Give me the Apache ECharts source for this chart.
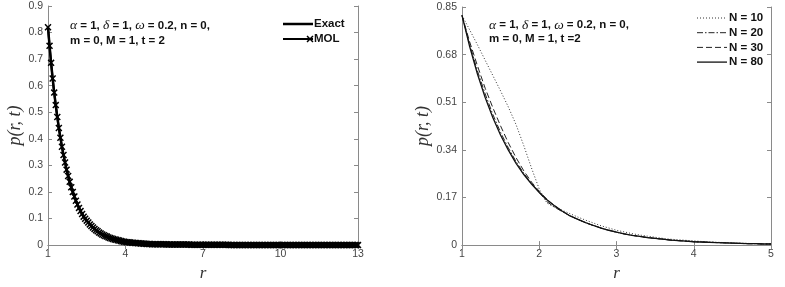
<!DOCTYPE html>
<html>
<head>
<meta charset="utf-8">
<script src="https://cdn.jsdelivr.net/npm/echarts@6/dist/echarts.min.js"></script>
<style>html,body{margin:0;padding:0;background:#fff}#c{width:785px;height:287px}</style>
</head>
<body>
<div id="c"></div>
<script>
// ---------- Left panel: Exact vs MOL (r from 1 to 13, step 0.06) ----------
const leftRStart = 1;
const leftRStep = 0.06;
const leftP = [
0.820,0.750,0.686,0.627,0.574,0.527,0.482,0.441,0.404,0.370,
0.339,0.311,0.284,0.260,0.238,0.218,0.200,0.183,0.167,0.153,
0.140,0.128,0.117,0.107,0.099,0.092,0.085,0.078,0.072,0.066,
0.061,0.056,0.052,0.047,0.044,0.040,0.037,0.034,0.032,0.029,
0.027,0.025,0.023,0.021,0.020,0.018,0.017,0.015,0.014,0.013,
0.012,0.011,0.011,0.010,0.009,0.009,0.008,0.008,0.007,0.007,
0.006,0.006,0.005,0.005,0.004,0.004,0.004,
0.003,0.003,0.003,0.003,0.003,0.003,0.003,0.003,0.003,0.003,
0.002,0.002,0.002,0.002,0.002,0.002,0.002,0.002,0.002,0.002,0.002,0.002,0.002,0.002,0.002,
0.001,0.001,0.001,0.001,0.001,0.001,0.001,0.001,0.001,0.001,
0.001,0.001,0.001,0.001,0.001,0.001,0.001,0.001,0.001,0.001,
0.001,0.001,0.001,0.001,0.001,
0,0,0,0,0,0,0,0,0,0,0,0,0,0,0,0,0,0,0,0,0,0,0,0,0,0,0,0,
0,0,0,0,0,0,0,0,0,0,0,0,0,0,0,0,0,0,0,0,0,0,0,0,0,0,0,0,
0,0,0,0,0,0,0,0,0,0,0,0,0,0,0,0,0,0,0,0,0,0,0,0,0,0,0,0
];
const leftXTicks = {min: 1, max: 13, interval: 3};
const leftYTicks = {min: 0, max: 0.9, interval: 0.1};

// ---------- Right panel: N = 10, 20, 30, 80 ----------
const rightR = [1.0,1.1,1.2,1.3,1.4,1.5,1.6,1.7,1.8,1.9,2.0,2.1,2.2,2.3,2.4,2.5,2.6,2.7,2.8,2.9,
                3.0,3.1,3.2,3.3,3.4,3.5,3.6,3.7,3.8,3.9,4.0,4.1,4.2,4.3,4.4,4.5,4.6,4.7,4.8,4.9,5.0];
const pN10 = [0.820,0.768,0.715,0.660,0.605,0.550,0.493,0.430,0.355,0.275,0.200,0.150,0.135,0.124,0.112,
              0.100,0.089,0.079,0.069,0.061,0.053,0.047,0.041,0.036,0.032,0.028,0.024,0.021,0.019,0.017,
              0.015,0.013,0.012,0.010,0.009,0.008,0.007,0.006,0.005,0.004,0.004];
const pN20 = [0.820,0.715,0.622,0.540,0.466,0.402,0.347,0.298,0.256,0.220,0.188,0.155,0.135,0.119,0.104,
              0.092,0.080,0.070,0.061,0.053,0.046,0.040,0.035,0.031,0.027,0.024,0.021,0.018,0.016,0.014,
              0.012,0.011,0.010,0.009,0.008,0.007,0.006,0.005,0.005,0.004,0.004];
const pN30 = [0.820,0.725,0.640,0.560,0.490,0.425,0.365,0.312,0.265,0.225,0.192,0.163,0.140,0.121,0.104,
              0.092,0.080,0.070,0.061,0.053,0.046,0.040,0.035,0.031,0.027,0.024,0.021,0.018,0.016,0.014,
              0.012,0.011,0.010,0.009,0.008,0.007,0.006,0.005,0.005,0.004,0.004];
const pN80 = [0.820,0.708,0.611,0.527,0.455,0.392,0.339,0.292,0.252,0.218,0.188,0.162,0.140,0.121,0.104,
              0.092,0.080,0.070,0.061,0.053,0.046,0.040,0.035,0.031,0.027,0.024,0.021,0.018,0.016,0.014,
              0.012,0.011,0.010,0.009,0.008,0.007,0.006,0.005,0.005,0.004,0.004];
const rightXTicks = {min: 1, max: 5, interval: 1};
const rightYTicks = {min: 0, max: 0.85, interval: 0.17};

const leftLegend = ['Exact', 'MOL'];
const rightLegend = ['N = 10', 'N = 20', 'N = 30', 'N = 80'];
const annoLeft = '{g|α} = 1, {g|δ} = 1, {g|ω} = 0.2, n = 0,\nm = 0, M = 1, t = 2';
const annoRight = '{g|α} = 1, {g|δ} = 1, {g|ω} = 0.2, n = 0,\nm = 0, M = 1, t =2';

// ---------- build ----------
const leftData = leftP.map((v, k) => [leftRStart + leftRStep * k, v]);
const pairs = arr => arr.map((v, i) => [rightR[i], v]);

const boxColor = '#8a8a8a';
const labColor = '#444';
const sans = 'Liberation Sans';
const serif = 'Liberation Serif';

function xAx(grid, ticks, pos, label, name) {
  return {
    type: 'value', gridIndex: grid, position: pos, min: ticks.min, max: ticks.max, interval: ticks.interval,
    axisLine: {show: true, lineStyle: {color: boxColor, width: 1}},
    axisTick: {show: true, inside: true, length: 4, lineStyle: {color: boxColor}},
    axisLabel: {show: label, color: labColor, fontSize: 10.5, fontFamily: sans, margin: 4},
    splitLine: {show: false},
    name: name || '', nameLocation: 'middle', nameGap: 15,
    nameTextStyle: {fontFamily: serif, fontStyle: 'italic', fontSize: 17, color: '#333'}
  };
}
function yAx(grid, ticks, pos, label, name) {
  return {
    type: 'value', gridIndex: grid, position: pos, min: ticks.min, max: ticks.max, interval: ticks.interval,
    axisLine: {show: true, lineStyle: {color: boxColor, width: 1}},
    axisTick: {show: true, inside: true, length: 4, lineStyle: {color: boxColor}},
    axisLabel: {show: label, color: labColor, fontSize: 10.5, fontFamily: sans, margin: 5,
      formatter: v => String(Math.round(v * 100) / 100)},
    splitLine: {show: false},
    name: name || '', nameLocation: 'middle', nameGap: 22, nameRotate: 90,
    nameTextStyle: {fontFamily: serif, fontStyle: 'italic', fontSize: 18, color: '#333'}
  };
}

const xMark = 'path://M0,1.5L1.5,0L5,3.5L8.5,0L10,1.5L6.5,5L10,8.5L8.5,10L5,6.5L1.5,10L0,8.5L3.5,5Z';
const xPts = [[0,1.5],[1.5,0],[5,3.5],[8.5,0],[10,1.5],[6.5,5],[10,8.5],[8.5,10],[5,6.5],[1.5,10],[0,8.5],[3.5,5]];

// legend styles (drawn as graphic so dash patterns show exactly)
const leftLegendStyle = [
  {dash: null, width: 2.5, color: '#000', marker: false},
  {dash: null, width: 2, color: '#000', marker: true}
];
const rightLegendStyle = [
  {dash: [1, 2], width: 1, color: '#333'},
  {dash: [6, 2, 1.5, 2], width: 1, color: '#222'},
  {dash: [6, 3], width: 1, color: '#222'},
  {dash: null, width: 1.3, color: '#111'}
];
function legendGraphics(names, styles, x0, x1, tx, y0, dy) {
  const out = [];
  names.forEach((nm, i) => {
    const y = y0 + dy * i;
    const st = styles[i];
    const ls = {stroke: st.color, lineWidth: st.width};
    if (st.dash) ls.lineDash = st.dash;
    out.push({type: 'line', shape: {x1: x0, y1: y, x2: x1, y2: y}, style: ls});
    if (st.marker) {
      const cx = x1 - 3, cy = y;
      out.push({type: 'polygon', shape: {points: xPts.map(p => [cx - 3.5 + p[0] * 0.7, cy - 3.5 + p[1] * 0.7])},
        style: {fill: '#000'}});
    }
    out.push({type: 'text', x: tx, y: y, style: {text: nm, fontFamily: sans, fontWeight: 'bold', fontSize: 11.5,
      fill: '#111', verticalAlign: 'middle', align: 'left'}});
  });
  return out;
}

const option = {
  animation: false,
  backgroundColor: '#fff',
  grid: [
    {left: 48, top: 6, width: 310, height: 241},
    {left: 462, top: 7, width: 309, height: 240}
  ],
  xAxis: [
    xAx(0, leftXTicks, 'bottom', true, 'r'),
    xAx(0, leftXTicks, 'top', false),
    xAx(1, rightXTicks, 'bottom', true, 'r'),
    xAx(1, rightXTicks, 'top', false)
  ],
  yAxis: [
    yAx(0, leftYTicks, 'left', true, 'p(r, t)'),
    yAx(0, leftYTicks, 'right', false),
    yAx(1, rightYTicks, 'left', true, 'p(r, t)'),
    yAx(1, rightYTicks, 'right', false)
  ],
  series: [
    {name: leftLegend[0], type: 'line', xAxisIndex: 0, yAxisIndex: 0, data: leftData, showSymbol: false, symbol: 'none',
     lineStyle: {color: '#000', width: 2.5}, itemStyle: {color: '#000'}},
    {name: leftLegend[1], type: 'line', xAxisIndex: 0, yAxisIndex: 0, data: leftData, symbol: xMark, symbolSize: 7,
     showAllSymbol: true, lineStyle: {color: '#000', width: 2}, itemStyle: {color: '#000'}},
    {name: rightLegend[0], type: 'line', xAxisIndex: 2, yAxisIndex: 2, data: pairs(pN10), symbol: 'none',
     lineStyle: {color: '#333', width: 1, type: [1, 2]}},
    {name: rightLegend[1], type: 'line', xAxisIndex: 2, yAxisIndex: 2, data: pairs(pN20), symbol: 'none',
     lineStyle: {color: '#222', width: 1, type: [6, 2, 1.5, 2]}},
    {name: rightLegend[2], type: 'line', xAxisIndex: 2, yAxisIndex: 2, data: pairs(pN30), symbol: 'none',
     lineStyle: {color: '#222', width: 1, type: [6, 3]}},
    {name: rightLegend[3], type: 'line', xAxisIndex: 2, yAxisIndex: 2, data: pairs(pN80), symbol: 'none',
     lineStyle: {color: '#111', width: 1.3}}
  ],
  graphic: [
    {type: 'text', x: 70, y: 18, style: {text: annoLeft, fontFamily: sans, fontWeight: 'bold', fontSize: 11.5,
      fill: '#111', lineHeight: 15, rich: {g: {fontFamily: serif, fontStyle: 'italic', fontWeight: 'normal', fontSize: 13.5, fill: '#111'}}}},
    {type: 'text', x: 489, y: 18, style: {text: annoRight, fontFamily: sans, fontWeight: 'bold', fontSize: 11.5,
      fill: '#111', lineHeight: 14, rich: {g: {fontFamily: serif, fontStyle: 'italic', fontWeight: 'normal', fontSize: 13.5, fill: '#111'}}}}
  ]
    .concat(legendGraphics(leftLegend, leftLegendStyle, 283, 313, 314, 24, 15))
    .concat(legendGraphics(rightLegend, rightLegendStyle, 697, 727, 729, 18, 14.7))
};
const chart = echarts.init(document.getElementById('c'), null, {renderer: 'canvas'});
chart.setOption(option);
</script>
</body>
</html>
